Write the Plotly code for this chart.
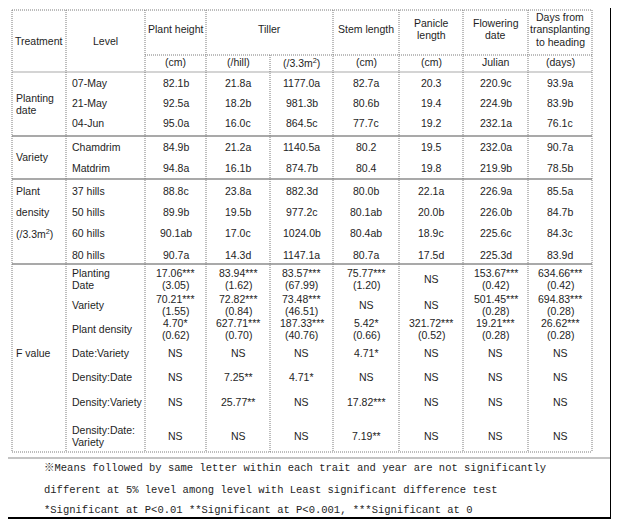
"""Table recreation: rice growth traits by planting date / variety / density with F values."""
import plotly.graph_objects as go

W, H = 619, 526
PAGE_PAD = 8          # default <body> margin of the written page
INK = "#1e1e1e"
RULE = "#7a7a7a"      # dotted cell rules
BAND = "#a9a9a9"      # solid group separators
FONT = "Liberation Sans, Arial, sans-serif"
NOTE_FONT = "Liberation Mono, 'Noto Sans CJK KR', monospace"
LINE_GAP = 12.5       # spacing of stacked label lines

# ---- data ----
TRAIT_HEADS = ["Plant height", "Tiller", "Stem length", "Panicle<br>length",
               "Flowering<br>date", "Days from<br>transplanting<br>to heading"]
TRAIT_SPANS = [1, 2, 1, 1, 1, 1]
UNITS = ["(cm)", "(/hill)", "(/3.3m<sup>2</sup>)", "(cm)", "(cm)", "Julian", "(days)"]

DATE_LEVELS = ["07-May", "21-May", "04-Jun"]
DATE_VALUES = [
    ["82.1b", "21.8a", "1177.0a", "82.7a", "20.3", "220.9c", "93.9a"],
    ["92.5a", "18.2b", "981.3b", "80.6b", "19.4", "224.9b", "83.9b"],
    ["95.0a", "16.0c", "864.5c", "77.7c", "19.2", "232.1a", "76.1c"],
]
VARIETY_LEVELS = ["Chamdrim", "Matdrim"]
VARIETY_VALUES = [
    ["84.9b", "21.2a", "1140.5a", "80.2", "19.5", "232.0a", "90.7a"],
    ["94.8a", "16.1b", "874.7b", "80.4", "19.8", "219.9b", "78.5b"],
]
DENSITY_LEVELS = ["37 hills", "50 hills", "60 hills", "80 hills"]
DENSITY_VALUES = [
    ["88.8c", "23.8a", "882.3d", "80.0b", "22.1a", "226.9a", "85.5a"],
    ["89.9b", "19.5b", "977.2c", "80.1ab", "20.0b", "226.0b", "84.7b"],
    ["90.1ab", "17.0c", "1024.0b", "80.4ab", "18.9c", "225.6c", "84.3c"],
    ["90.7a", "14.3d", "1147.1a", "80.7a", "17.5d", "225.3d", "83.9d"],
]

F_TERMS = ["Planting<br>Date", "Variety", "Plant density", "Date:Variety",
           "Density:Date", "Density:Variety", "Density:Date:<br>Variety"]
F_STATS = [
    ["17.06***", "83.94***", "83.57***", "75.77***", "NS", "153.67***", "634.66***"],
    ["70.21***", "72.82***", "73.48***", "NS", "NS", "501.45***", "694.83***"],
    ["4.70*", "627.71***", "187.33***", "5.42*", "321.72***", "19.21***", "26.62***"],
    ["NS", "NS", "NS", "4.71*", "NS", "NS", "NS"],
    ["NS", "7.25**", "4.71*", "NS", "NS", "NS", "NS"],
    ["NS", "25.77**", "NS", "17.82***", "NS", "NS", "NS"],
    ["NS", "NS", "NS", "7.19**", "NS", "NS", "NS"],
]
F_LSD = [
    ["(3.05)", "(1.62)", "(67.99)", "(1.20)", "", "(0.42)", "(0.42)"],
    ["(1.55)", "(0.84)", "(46.51)", "", "", "(0.28)", "(0.28)"],
    ["(0.62)", "(0.70)", "(40.76)", "(0.66)", "(0.52)", "(0.28)", "(0.28)"],
    [""] * 7, [""] * 7, [""] * 7, [""] * 7,
]

NOTES = [
    "※Means followed by same letter within each trait and year are not significantly",
    "different at 5% level among level with Least significant difference test",
    "*Significant at P<0.01 **Significant at P<0.001, ***Significant at 0",
]

# ---- layout grid (page pixel coords) ----
COL_X = [12, 66, 145, 206, 270, 333, 399, 463, 528, 592]
TOP, HEAD_MID, HEAD_BOT, BOT = 10, 55, 72, 452
DATE_Y = [83, 103, 123]
VARIETY_Y = [147, 168]
DENSITY_Y = [191, 212, 233, 255]
GROUP_LINES = [136, 179, 264]
F_Y = [279, 305, 329, 353, 377, 402, 436]
NOTE_Y = [468, 490, 510]

fig = go.Figure()
ann = []


def text(x, y, s, anchor="center", size=10.5, font=FONT):
    """One annotation per line; stacked lines are spread evenly around y."""
    lines = s.split("<br>")
    y0 = y - LINE_GAP * (len(lines) - 1) / 2
    for k, line in enumerate(lines):
        ann.append(dict(x=x, y=y0 + k * LINE_GAP, text=line, showarrow=False,
                        xanchor=anchor, yanchor="middle",
                        font=dict(family=font, size=size, color=INK)))


def hline(y, x0, x1, color=RULE, width=1, dash="1px,1px"):
    fig.add_shape(type="line", x0=x0, x1=x1, y0=y, y1=y, xref="x", yref="y",
                  line=dict(color=color, width=width, dash=dash))


def vline(x, y0, y1, color=RULE, width=1, dash="1px,1px"):
    fig.add_shape(type="line", x0=x, x1=x, y0=y0, y1=y1, xref="x", yref="y",
                  line=dict(color=color, width=width, dash=dash))


centers = [(COL_X[i] + COL_X[i + 1]) / 2 for i in range(2, 9)]

# header
text(39, 41, "Treatment")
text(105, 41, "Level")
col = 2
for head, span in zip(TRAIT_HEADS, TRAIT_SPANS):
    text((COL_X[col] + COL_X[col + span]) / 2, 29, head)
    col += span
for cx, u in zip(centers, UNITS):
    text(cx, 62, u)

# treatment group labels
text(14, 104, "Planting<br>date", anchor="left")
text(14, 157, "Variety", anchor="left")
for y, s in zip(DENSITY_Y[:3], ["Plant", "density", "(/3.3m<sup>2</sup>)"]):
    text(14, y, s, anchor="left")
text(14, 353, "F value", anchor="left")

# level rows
for levels, values, ys in [(DATE_LEVELS, DATE_VALUES, DATE_Y),
                           (VARIETY_LEVELS, VARIETY_VALUES, VARIETY_Y),
                           (DENSITY_LEVELS, DENSITY_VALUES, DENSITY_Y)]:
    for lev, row, y in zip(levels, values, ys):
        text(70, y, lev, anchor="left")
        for cx, v in zip(centers, row):
            text(cx, y, v)

# F value rows (statistic over LSD in parentheses)
for term, stats, lsd, y in zip(F_TERMS, F_STATS, F_LSD, F_Y):
    text(70, y, term, anchor="left")
    for cx, s, l in zip(centers, stats, lsd):
        text(cx, y, f"{s}<br>{l}" if l else s)

# footnotes
for y, s in zip(NOTE_Y, NOTES):
    text(42, y, s, anchor="left", size=10.5, font=NOTE_FONT)

# rules
hline(TOP, COL_X[0], COL_X[-1])
hline(HEAD_MID, COL_X[2], COL_X[-1])
hline(HEAD_BOT, COL_X[0], COL_X[-1], color=BAND, width=1.2, dash="solid")
for y in GROUP_LINES:
    hline(y, COL_X[0], COL_X[-1], color=BAND, width=2, dash="solid")
hline(BOT, COL_X[0], COL_X[-1])
for i, x in enumerate(COL_X):
    vline(x, HEAD_MID if i == 4 else TOP, BOT)
hline(458, 4, 611, color="#c4c4c4", width=2, dash="solid")
fig.add_shape(type="rect", x0=4.5, x1=611, y0=4.5, y1=518, xref="x", yref="y",
              line=dict(color="#000000", width=2))

fig.update_layout(
    width=W, height=H, margin=dict(l=0, r=0, t=0, b=0),
    paper_bgcolor="white", plot_bgcolor="white",
    annotations=ann, showlegend=False,
)
# offset the ranges so page pixel coords land where the reference has them
fig.update_xaxes(range=[PAGE_PAD, W + PAGE_PAD], visible=False, fixedrange=True)
fig.update_yaxes(range=[H + PAGE_PAD, PAGE_PAD], visible=False, fixedrange=True)
fig.write_html("out.html")
